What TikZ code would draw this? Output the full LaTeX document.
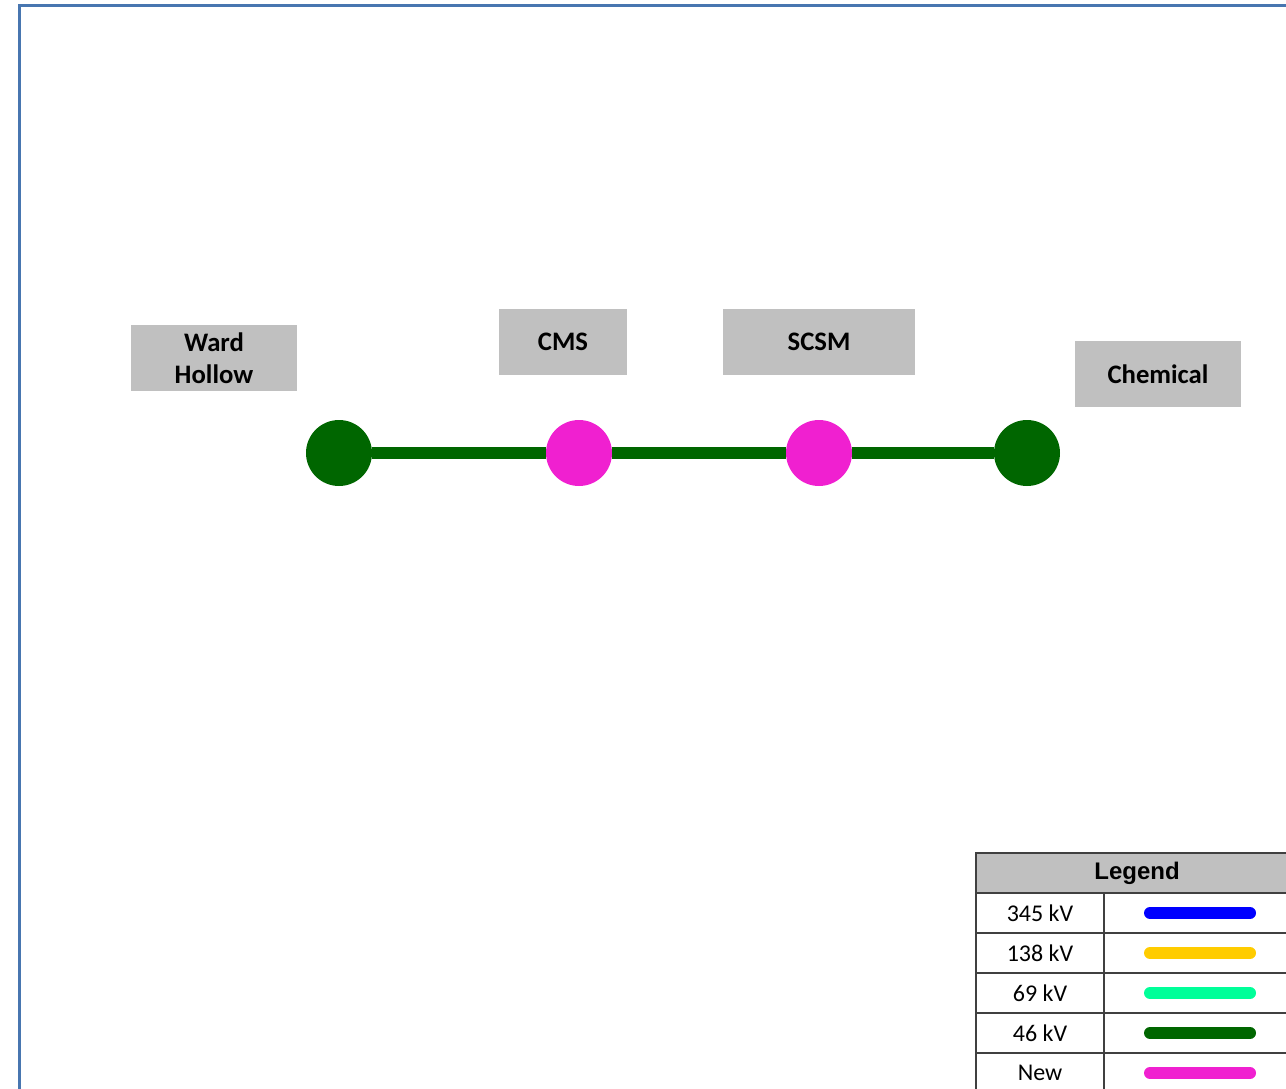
\documentclass[tikz,border=0pt]{standalone}
\usepackage{fontspec}
\setmainfont{Carlito}
\newfontfamily\arialfont{Liberation Sans}
\usepackage{tikz}

\definecolor{framecol}{RGB}{72,118,176}
\definecolor{boxgray}{RGB}{192,192,192}
\definecolor{gridcol}{RGB}{64,64,64}
\definecolor{kvblue}{RGB}{0,0,255}
\definecolor{kvgold}{RGB}{255,204,0}
\definecolor{kvmint}{RGB}{0,255,153}
\definecolor{kvgreen}{RGB}{0,102,0}
\definecolor{kvnew}{RGB}{240,32,208}

\begin{document}
\begin{tikzpicture}[
    x=1pt, y=-1pt,
    subname/.style={rectangle, fill=boxgray, minimum height=66pt, inner sep=0pt, align=center, font=\fontsize{26.7}{32}\selectfont\bfseries},
    bus/.style={circle, minimum size=66pt, inner sep=0pt},
    line46/.style={draw=kvgreen, line width=12pt},
    cell/.style={rectangle, draw=gridcol, line width=2pt, minimum height=40pt, inner sep=0pt, font=\fontsize{24}{28}\selectfont},
    sample/.style={line width=12pt, line cap=round}
]
\clip (0,0) rectangle (1286,1088);

% Frame
\draw[framecol, line width=3pt] (19,5) rectangle (1300,1100);

% Substation names
\node[subname, minimum width=166pt] (whname) at (214,358) {Ward\\Hollow};
\node[subname, minimum width=128pt] (cmsname) at (563,342) {\raisebox{-1pt}{CMS}};
\node[subname, minimum width=192pt] (scsmname) at (819,342) {\raisebox{-1pt}{SCSM}};
\node[subname, minimum width=166pt] (chemname) at (1158,374) {\raisebox{-1pt}{Chemical}};

% Buses
\node[bus, fill=kvgreen] (wh) at (339,453) {};
\node[bus, fill=kvnew] (cms) at (579,453) {};
\node[bus, fill=kvnew] (scsm) at (819,453) {};
\node[bus, fill=kvgreen] (chem) at (1027,453) {};

% 46 kV lines
\draw[line46] (wh) -- (cms);
\draw[line46] (cms) -- (scsm);
\draw[line46] (scsm) -- (chem);

% Legend
\node[cell, fill=boxgray, minimum width=322pt, font=\arialfont\fontsize{24}{28}\selectfont\bfseries] (legend) at (1137,873) {\raisebox{-3pt}{Legend}};
\foreach \kv/\col [count=\i] in {345 kV/kvblue, 138 kV/kvgold, 69 kV/kvmint, 46 kV/kvgreen, New/kvnew} {
    \node[cell, minimum width=128pt] (lab\i) at (1040,873+40*\i) {\raisebox{-1.5pt}{\kv}};
    \node[cell, minimum width=194pt] (smp\i) at (1201,873+40*\i) {};
    \draw[sample, draw=\col] ([xshift=47pt]smp\i.west) -- ([xshift=147pt]smp\i.west);
}

\end{tikzpicture}
\end{document}
